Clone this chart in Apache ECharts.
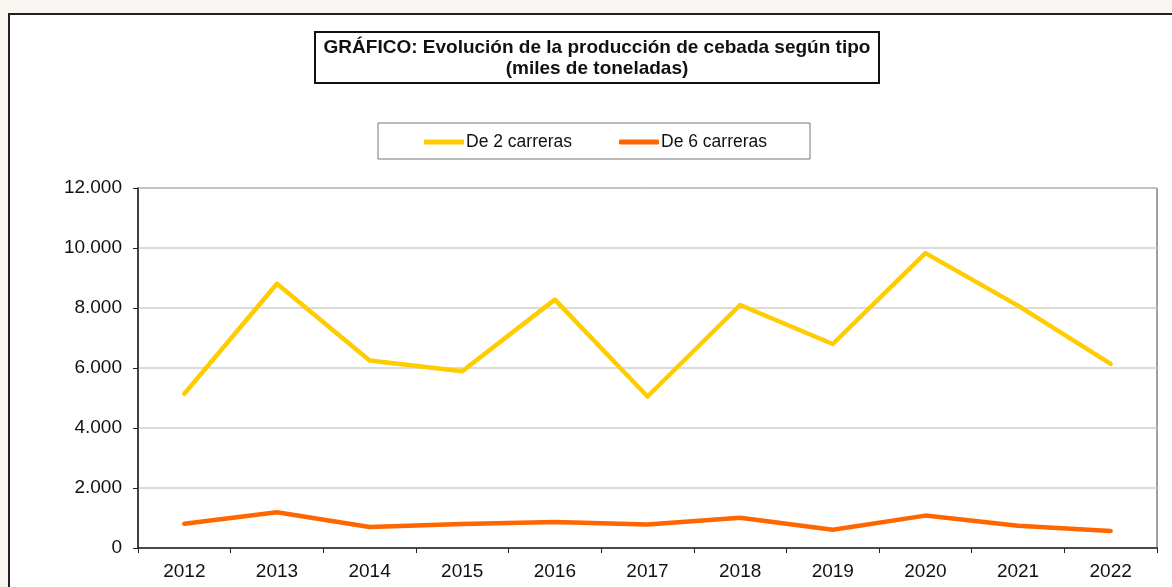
<!DOCTYPE html>
<html>
<head>
<meta charset="utf-8">
<script src="https://cdn.jsdelivr.net/npm/echarts@6/dist/echarts.min.js"></script>
<style>
  html, body { margin: 0; padding: 0; background: #f9f5f1; overflow: hidden; }
  #marco { position: absolute; left: 8px; top: 13px; width: 1200px; height: 620px; background: #fff; border: 2px solid #222; }
  #tu1 { position: absolute; left: 0; top: 0; width: 1172px; height: 587px; }
</style>
</head>
<body>
<div id="marco"></div>
<div id="tu1"></div>
<script>
// datos
var anios = ["2012","2013","2014","2015","2016","2017","2018","2019","2020","2021","2022"];
var dosCarreras = [5140, 8810, 6250, 5890, 8280, 5050, 8100, 6800, 9830, 8080, 6140];
var seisCarreras = [810, 1190, 700, 800, 870, 780, 1010, 610, 1080, 740, 570];
var ejeY = { min: 0, max: 12000, interval: 2000 };

// 12000 -> "12.000"
function miles(v) {
	return String(v).replace(/\B(?=(\d{3})+(?!\d))/g, ".");
}

var myChart = echarts.init(document.getElementById('tu1'));

var option = {
	backgroundColor: "transparent",
	animation: false,
	title: {
		text: "GRÁFICO: Evolución de la producción de cebada según tipo\n(miles de toneladas)",
		left: 588,
		top: 32,
		textAlign: "center",
		padding: [5, 9, 4, 9],
		borderColor: "#111",
		borderWidth: 2,
		textStyle: {
			fontFamily: "Liberation Sans, Arial",
			fontSize: 19,
			fontWeight: "bold",
			color: "#111",
			lineHeight: 21,
			align: "center"
		}
	},
	legend: {
		left: 378,
		top: 123,
		padding: [10, 43, 8, 46],
		borderColor: "#777",
		borderWidth: 1,
		itemWidth: 40,
		itemHeight: 5,
		itemGap: 47,
		icon: "roundRect",
		textStyle: {
			fontFamily: "Liberation Sans, Arial",
			fontSize: 17.5,
			color: "#111",
			padding: [0, 0, 0, -3]
		},
		data: ["De 2 carreras", "De 6 carreras"]
	},
	grid: {
		left: 138,
		right: 15,
		top: 188,
		bottom: 39,
		show: true,
		borderColor: "#444",
		borderWidth: 1,
		containLabel: false
	},
	xAxis: {
		type: "category",
		data: anios,
		boundaryGap: true,
		axisLine: { lineStyle: { color: "#222", width: 1.5 } },
		axisTick: { show: true, inside: false, length: 5, lineStyle: { color: "#222" } },
		axisLabel: {
			margin: 14,
			fontFamily: "Liberation Sans, Arial",
			fontSize: 19,
			color: "#111"
		},
		splitLine: { show: false }
	},
	yAxis: {
		type: "value",
		min: ejeY.min,
		max: ejeY.max,
		interval: ejeY.interval,
		axisLine: { show: true, lineStyle: { color: "#222", width: 1.5 } },
		axisTick: { show: true, inside: false, length: 5, lineStyle: { color: "#222" } },
		axisLabel: {
			margin: 16,
			fontFamily: "Liberation Sans, Arial",
			fontSize: 19,
			color: "#111",
			formatter: miles
		},
		splitLine: { show: true, lineStyle: { color: "#cfcfcf", width: 1.5 } }
	},
	series: [
		{
			name: "De 2 carreras",
			type: "line",
			data: dosCarreras,
			symbol: "none",
			color: "#ffcc00",
			lineStyle: { width: 4.5, color: "#ffcc00", cap: "round", join: "round" }
		},
		{
			name: "De 6 carreras",
			type: "line",
			data: seisCarreras,
			symbol: "none",
			color: "#ff6600",
			lineStyle: { width: 4.5, color: "#ff6600", cap: "round", join: "round" }
		}
	]
};

myChart.setOption(option);
</script>
</body>
</html>
